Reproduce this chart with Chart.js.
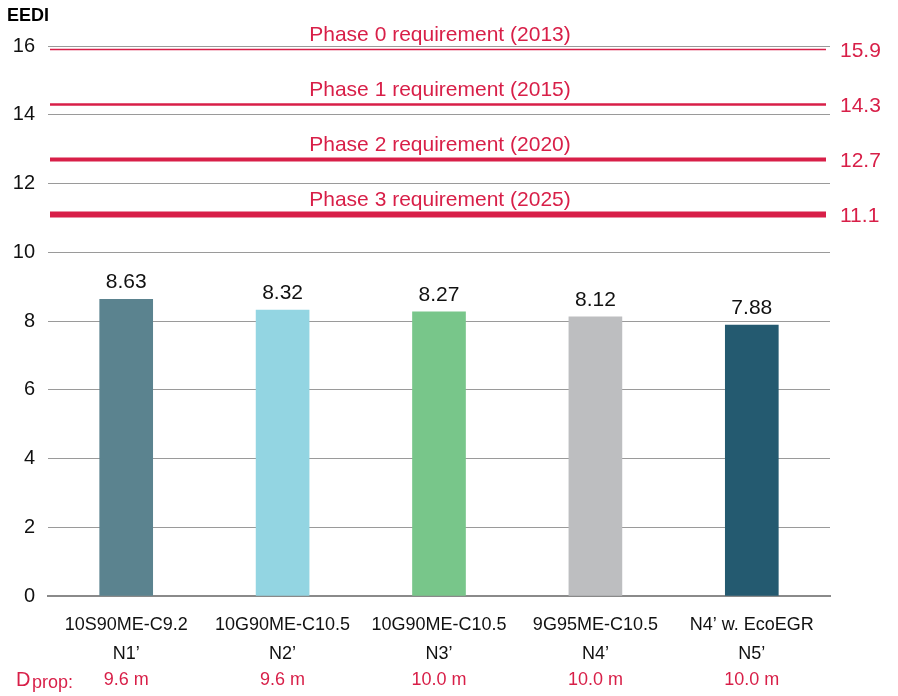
<!DOCTYPE html>
<html><head><meta charset="utf-8">
<script src="https://cdn.jsdelivr.net/npm/chart.js@4/dist/chart.umd.min.js"></script>
<style>html,body{margin:0;padding:0;background:#fff}#wrap{width:898px;height:696px;position:relative}</style>
</head><body><div id="wrap"><canvas id="c" width="898" height="696"></canvas></div>
<script>
const categories = ['10S90ME-C9.2','10G90ME-C10.5','10G90ME-C10.5','9G95ME-C10.5','N4\u2019 w. EcoEGR'];
const variants = ['N1\u2019','N2\u2019','N3\u2019','N4\u2019','N5\u2019'];
const dprop = ['9.6 m','9.6 m','10.0 m','10.0 m','10.0 m'];
const eedi = [8.63, 8.32, 8.27, 8.12, 7.88];
const barColors = ['#5b838f','#93d5e2','#78c68a','#bdbec0','#245a70'];
const phaseLabels = ['Phase 0 requirement (2013)','Phase 1 requirement (2015)','Phase 2 requirement (2020)','Phase 3 requirement (2025)'];
const phaseValues = [15.9, 14.3, 12.7, 11.1];
const phaseWidths = [1.5, 2.5, 4, 6];
const yTicks = [0, 2, 4, 6, 8, 10, 12, 14, 16];

const RED = '#d81f48';
const FONT = '"Liberation Sans", Arial, Helvetica, sans-serif';

const overlay = {
  id: 'overlay',
  afterDatasetsDraw(chart) {
    const ctx = chart.ctx, y = chart.scales.y, a = chart.chartArea;
    ctx.save();
    phaseValues.forEach((v, i) => {
      const py = y.getPixelForValue(v);
      ctx.strokeStyle = RED;
      ctx.lineWidth = phaseWidths[i];
      ctx.beginPath(); ctx.moveTo(a.left + 2, py); ctx.lineTo(a.right - 4, py); ctx.stroke();
      ctx.fillStyle = RED;
      ctx.font = '21px ' + FONT;
      ctx.textAlign = 'center'; ctx.textBaseline = 'middle';
      ctx.fillText(phaseLabels[i], 440, py - 14);
      ctx.textAlign = 'left';
      ctx.fillText(v.toFixed(1), 840, py + 2);
    });
    ctx.fillStyle = '#111';
    ctx.font = '21px ' + FONT;
    ctx.textAlign = 'center'; ctx.textBaseline = 'middle';
    const meta = chart.getDatasetMeta(0);
    meta.data.forEach((bar, i) => {
      ctx.fillText(eedi[i].toFixed(2), bar.x, bar.y - 17);
    });
    ctx.fillStyle = RED;
    ctx.textAlign = 'left'; ctx.textBaseline = 'alphabetic';
    ctx.font = '20px ' + FONT;
    ctx.fillText('D', 16, 686);
    ctx.font = '18px ' + FONT;
    ctx.fillText('prop:', 32, 688);
    ctx.textAlign = 'center'; ctx.textBaseline = 'middle';
    meta.data.forEach((bar, i) => {
      ctx.fillText(dprop[i], bar.x, 680);
    });
    ctx.fillStyle = '#000';
    ctx.font = 'bold 18px ' + FONT;
    ctx.textAlign = 'left';
    ctx.fillText('EEDI', 7, 16);
    ctx.restore();
  }
};

new Chart(document.getElementById('c'), {
  type: 'bar',
  data: {
    labels: categories.map((c, i) => [c, variants[i]]),
    datasets: [{ data: eedi, backgroundColor: barColors, barThickness: 53, borderWidth: 0 }]
  },
  options: {
    responsive: false,
    animation: false,
    devicePixelRatio: 1,
    layout: { padding: { top: 46, right: 68, bottom: 0, left: 0 } },
    plugins: { legend: { display: false }, tooltip: { enabled: false } },
    scales: {
      x: {
        grid: { display: false },
        border: { display: true, color: '#8a8a8a', width: 2 },
        ticks: { color: '#111', font: { size: 18, family: FONT, lineHeight: 1.6 }, padding: 7, maxRotation: 0, autoSkip: false },
        afterFit(s) { s.height = 100; }
      },
      y: {
        min: 0, max: 16,
        afterBuildTicks(s) { s.ticks = yTicks.map(v => ({ value: v })); },
        grid: { color: '#9a9a9a', lineWidth: 1, drawTicks: false },
        border: { display: false },
        ticks: { color: '#111', font: { size: 20, family: FONT }, padding: 13 },
        afterFit(s) { s.width = 48; }
      }
    }
  },
  plugins: [overlay]
});
</script></body></html>
